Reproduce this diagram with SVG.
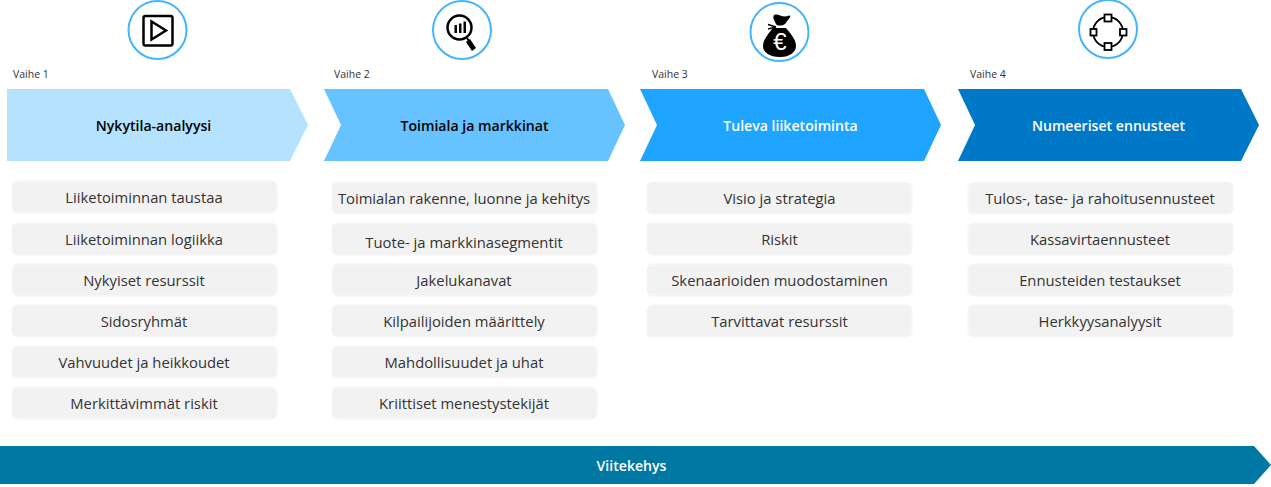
<svg xmlns="http://www.w3.org/2000/svg" width="1271" height="487" viewBox="0 0 1271 487">
<style>
text{font-family:"Open Sans","Noto Sans","Liberation Sans",sans-serif;text-anchor:middle}
.v{font-size:10.500px;fill:#333;text-anchor:start}
.h{font-size:14.100px;font-weight:600}
.b{fill:#f2f2f2;stroke:#f8f8f8;stroke-width:1.500}
.t{font-size:14.800px;fill:#333}
.c{fill:#fff;stroke:#45b4fa;stroke-width:2}
.i{fill:none;stroke:#000}
.k{fill:#000}
</style>
<defs>
<g id="r"><rect class="b" x="0" y="0" width="265" height="32" rx="5"/></g>
</defs>
<g id="icon1"><circle class="c" cx="157.500" cy="30" r="29"/><rect class="i" x="143.500" y="16" width="29" height="29.500" rx="2" stroke-width="2.500"/><path class="i" d="M151.500 21.500V39.500L166 30.500Z" stroke-width="2.500"/></g>
<g id="icon2"><circle class="c" cx="462" cy="30" r="29"/><circle class="i" cx="459.500" cy="27.500" r="12" stroke-width="2.500"/><rect class="k" x="454.500" y="25" width="2.500" height="8"/><rect class="k" x="459" y="23.500" width="2.500" height="9.500"/><rect class="k" x="463.500" y="21.500" width="2.500" height="11.500"/><path class="i" d="M467 38L469 41" stroke-width="2"/><path class="k" d="M470 39L476 48 472 51 466 42Z"/></g>
<g id="icon3"><circle class="c" cx="779.500" cy="32" r="29"/><path class="k" d="M774 15C778 13 782 18 788 16 790 15 791 16 789.500 18L785 24C782 26 777 26 776 24 775 21 772 18 774 15Z"/><path class="i" d="M776 27L768 24.500M776 27L768 29" stroke-width="1.500"/><path class="k" d="M773 28H786C791 34 796 40 796 46 796 52 790 57 780 57 769 57 763 52 763 46 763 40 768 34 773 28Z"/><text x="780" y="50" style="font-size:24px;fill:#fff;font-family:'Liberation Sans',sans-serif">€</text></g>
<g id="icon4"><circle class="c" cx="1108" cy="29" r="29"/><circle class="i" cx="1108" cy="32" r="15" stroke-width="1.800"/><g fill="#fff" stroke="#000" stroke-width="1.800"><rect x="1104.500" y="14.500" width="7" height="7"/><rect x="1104.500" y="43" width="7" height="7"/><rect x="1090.500" y="29" width="6" height="6.500"/><rect x="1120" y="29" width="6.500" height="6.500"/></g></g>
<g id="vaihe1"><text class="v" x="13" y="78">Vaihe 1</text><path fill="#b5e2ff" d="M7 89H290L308 125 290 161H7Z"/><text class="h" x="153.500" y="130.500" fill="#000">Nykytila-analyysi</text></g>
<g id="vaihe2"><text class="v" x="334" y="78">Vaihe 2</text><path fill="#66c3ff" d="M324 89H608L625 125 608 161H324L341 125Z"/><text class="h" x="474.500" y="130.500" fill="#000">Toimiala ja markkinat</text></g>
<g id="vaihe3"><text class="v" x="652" y="78">Vaihe 3</text><path fill="#1fa4ff" d="M640 89H924L941 125 924 161H640L657 125Z"/><text class="h" x="790.500" y="130.500" fill="#fff">Tuleva liiketoiminta</text></g>
<g id="vaihe4"><text class="v" x="970" y="78">Vaihe 4</text><path fill="#0078c8" d="M958 89H1241L1259 125 1241 161H958L975 125Z"/><text class="h" x="1108.500" y="130.500" fill="#fff">Numeeriset ennusteet</text></g>
<g id="col1">
<use href="#r" x="12" y="181"/><text class="t" x="144" y="203">Liiketoiminnan taustaa</text>
<use href="#r" x="12" y="223"/><text class="t" x="144" y="245">Liiketoiminnan logiikka</text>
<use href="#r" x="12" y="264"/><text class="t" x="144" y="286">Nykyiset resurssit</text>
<use href="#r" x="12" y="305"/><text class="t" x="144" y="327">Sidosryhmät</text>
<use href="#r" x="12" y="346"/><text class="t" x="144" y="368">Vahvuudet ja heikkoudet</text>
<use href="#r" x="12" y="387"/><text class="t" x="144" y="409">Merkittävimmät riskit</text>
</g>
<g id="col2">
<use href="#r" x="332" y="182"/><text class="t" x="464" y="204">Toimialan rakenne, luonne ja kehitys</text>
<use href="#r" x="332" y="223"/><text class="t" x="464" y="248">Tuote- ja markkinasegmentit</text>
<use href="#r" x="332" y="264"/><text class="t" x="464" y="286">Jakelukanavat</text>
<use href="#r" x="332" y="305"/><text class="t" x="464" y="327">Kilpailijoiden määrittely</text>
<use href="#r" x="332" y="346"/><text class="t" x="464" y="368">Mahdollisuudet ja uhat</text>
<use href="#r" x="332" y="387"/><text class="t" x="464" y="409">Kriittiset menestystekijät</text>
</g>
<g id="col3">
<use href="#r" x="647" y="182"/><text class="t" x="779.500" y="204">Visio ja strategia</text>
<use href="#r" x="647" y="223"/><text class="t" x="779.500" y="245">Riskit</text>
<use href="#r" x="647" y="264"/><text class="t" x="779.500" y="286">Skenaarioiden muodostaminen</text>
<use href="#r" x="647" y="305"/><text class="t" x="779.500" y="327">Tarvittavat resurssit</text>
</g>
<g id="col4">
<use href="#r" x="968" y="182"/><text class="t" x="1100" y="204">Tulos-, tase- ja rahoitusennusteet</text>
<use href="#r" x="968" y="223"/><text class="t" x="1100" y="245">Kassavirtaennusteet</text>
<use href="#r" x="968" y="264"/><text class="t" x="1100" y="286">Ennusteiden testaukset</text>
<use href="#r" x="968" y="305"/><text class="t" x="1100" y="327">Herkkyysanalyysit</text>
</g>
<g id="viitekehys"><path fill="#0078a3" d="M0 446H1254L1271 465 1254 484H0Z"/><text class="h" x="631.500" y="471" fill="#fff">Viitekehys</text></g>
<g id="connectors"></g>
</svg>
